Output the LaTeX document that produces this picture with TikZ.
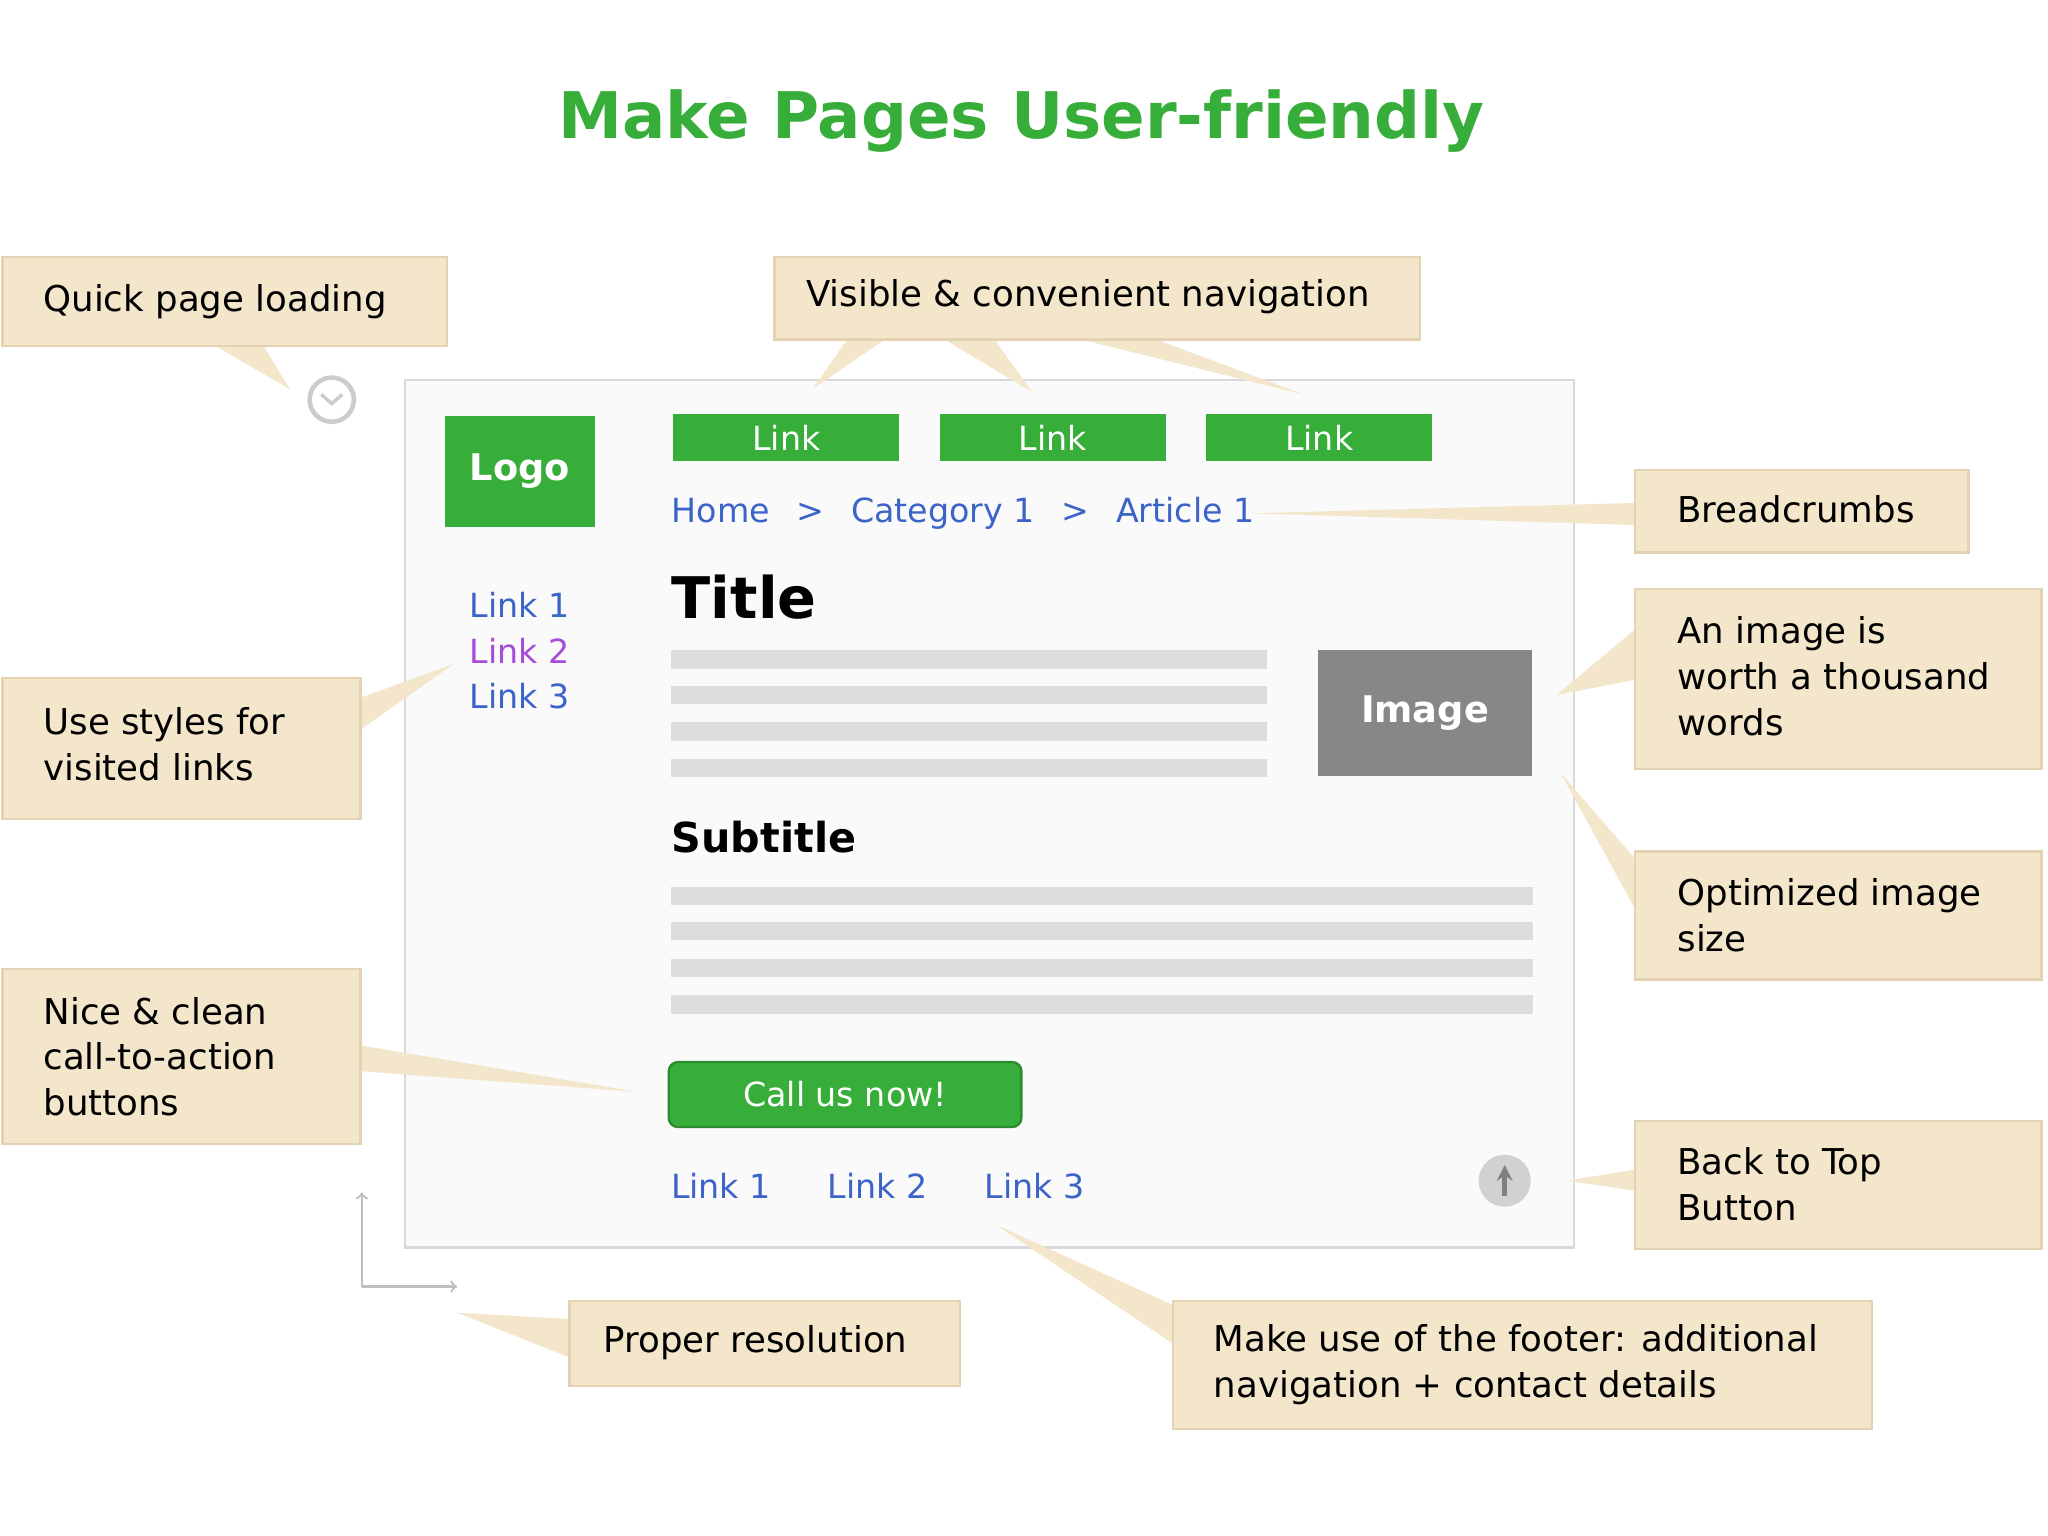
\documentclass[tikz,border=0pt]{standalone}
\usepackage{fontspec}
\setmainfont{DejaVu Sans}
\definecolor{gr}{HTML}{37AE3A}
\definecolor{bg}{HTML}{F3E6CB}
\definecolor{bgl}{HTML}{E3D3B3}
\definecolor{lk}{HTML}{3B63C8}
\definecolor{lv}{HTML}{A64CD9}
\definecolor{ln}{HTML}{DCDCDE}
\begin{document}
\begin{tikzpicture}[x=0.02cm,y=-0.02cm,
  co/.style={draw=bgl,fill=bg,line width=1pt},
  ct/.style={anchor=west,align=left,font=\fontsize{15.5}{20}\selectfont,inner sep=0pt},
  ptr/.style={fill=bg,draw=none},
  btn/.style={fill=gr,draw=none},
  lt/.style={font=\fontsize{14.5}{18}\selectfont,text=lk,inner sep=0pt},
  bar/.style={fill=ln,draw=none}]
\useasboundingbox[fill=white] (0,0) rectangle (1568,1176);
\node[font=\bfseries\fontsize{28}{34}\selectfont,text=gr] (title) at (782,93) {Make Pages User-friendly};
% page
\draw[draw=black!15,fill=black!2,line width=1pt] (310,291) rectangle (1205,955);
% pointers
\fill[ptr] (160,262) -- (222,298) -- (200,262) -- cycle;
\fill[ptr] (650,258) -- (622,298) -- (680,258) -- cycle;
\fill[ptr] (720,258) -- (790,300) -- (760,258) -- cycle;
\fill[ptr] (820,258) -- (998,302) -- (880,258) -- cycle;
\fill[ptr] (1254,385) -- (958,393) -- (1254,402) -- cycle;
\fill[ptr] (1254,480) -- (1192,532) -- (1254,520) -- cycle;
\fill[ptr] (1254,700) -- (1195,592) -- (1254,660) -- cycle;
\fill[ptr] (274,560) -- (348,508) -- (274,535) -- cycle;
\fill[ptr] (274,800) -- (488,836) -- (274,820) -- cycle;
\fill[ptr] (1254,895) -- (1200,904) -- (1254,912) -- cycle;
\fill[ptr] (438,1010) -- (350,1005) -- (438,1040) -- cycle;
\fill[ptr] (900,1030) -- (763,938) -- (900,1000) -- cycle;
% callouts
\draw[co] (2,197) rectangle (342,265); \node[ct] (c1) at (33,231) {Quick page loading};
\draw[co] (593,197) rectangle (1087,260); \node[ct] (c2) at (617,227) {Visible \& convenient navigation};
\draw[co] (1252,360) rectangle (1507,423); \node[ct] (c3) at (1284,390) {Breadcrumbs};
\draw[co] (1252,451) rectangle (1563,589); \node[ct] (c4) at (1284,518) {An image is\\worth a thousand\\words};
\draw[co] (1252,652) rectangle (1563,750); \node[ct] (c5) at (1284,701) {Optimized image\\size};
\draw[co] (2,519) rectangle (276,627); \node[ct] (c6) at (33,570) {Use styles for\\visited links};
\draw[co] (2,742) rectangle (276,876); \node[ct] (c7) at (33,809) {Nice \& clean\\call-to-action\\buttons};
\draw[co] (1252,858) rectangle (1563,956); \node[ct] (c8) at (1284,907) {Back to Top\\Button};
\draw[co] (436,996) rectangle (735,1061); \node[ct] (c9) at (462,1028) {Proper resolution};
\draw[co] (898,996) rectangle (1433,1094); \node[ct] (c10) at (929,1045) {Make use of the footer: additional\\navigation + contact details};
% clock
\node[circle,draw=black!20,line width=2pt,minimum size=34pt*0.567,inner sep=0pt] (clk) at (254,306) {};
\draw[black!20,line width=1.5pt] (246,302) -- (254,309) -- (262,302);
% logo & nav
\node[btn,minimum width=115*0.567pt,minimum height=86*0.567pt,text=white,font=\bfseries\fontsize{16}{20}\selectfont] (logo) at (398,361) {Logo};
\foreach \x/\n in {602/l1,806/l2,1010/l3}
  \node[btn,minimum width=174*0.567pt,minimum height=36*0.567pt,inner sep=0pt,text=white,font=\fontsize{14.5}{18}\selectfont] (\n) at (\x,335) {Link};
\node[lt,anchor=west] (bc) at (514,393) {Home\hspace{0.8em}>\hspace{0.8em}Category 1\hspace{0.8em}>\hspace{0.8em}Article 1};
\node[anchor=west,inner sep=0pt,font=\bfseries\fontsize{25}{30}\selectfont] (tt) at (514,457) {Title};
\foreach \y in {505,532,560,588} \fill[bar] (514,\y-7) rectangle (970,\y+7);
\node[fill=black!47,minimum width=165*0.567pt,minimum height=97*0.567pt,text=white,font=\bfseries\fontsize{16}{20}\selectfont] (img) at (1091,546) {Image};
\node[lt] (s1) at (398,463) {Link 1};
\node[lt,text=lv] (s2) at (398,498) {Link 2};
\node[lt] (s3) at (398,533) {Link 3};
\node[anchor=west,inner sep=0pt,font=\bfseries\fontsize{18}{22}\selectfont] (st) at (514,641) {Subtitle};
\foreach \y in {686,713,741,769} \fill[bar] (514,\y-7) rectangle (1174,\y+7);
\node[btn,draw=gr!80!black,line width=1pt,rounded corners=4pt,minimum width=271*0.567pt,minimum height=50*0.567pt,text=white,font=\fontsize{14.5}{18}\selectfont] (cta) at (647,838) {Call us now!};
\node[lt] (f1) at (552,908) {Link 1};
\node[lt] (f2) at (672,908) {Link 2};
\node[lt] (f3) at (792,908) {Link 3};
\node[circle,fill=black!18,minimum size=40*0.567pt,inner sep=0pt] (up) at (1152,904) {};
\draw[black!50,line width=2pt,->,>=stealth] (1152,916) -- (1152,892);
% resolution
\coordinate (r0) at (277,985);
\coordinate (r1) at (277,913);
\coordinate (r2) at (350,985);
\draw[black!25,line width=1pt,->] (r0) -- (r1);
\draw[black!25,line width=1pt,->] (r0) -- (r2);
\end{tikzpicture}
\end{document}
